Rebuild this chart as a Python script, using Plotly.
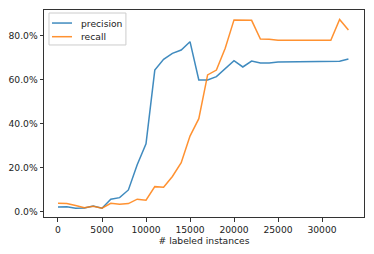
import plotly.graph_objects as go

labeled = [0, 1000, 2000, 3000, 4000, 5000, 6000, 7000, 8000, 9000, 10000, 11000,
           12000, 13000, 14000, 15000, 16000, 17000, 18000, 19000, 20000, 21000,
           22000, 23000, 24000, 25000, 26000, 27000, 28000, 29000, 30000, 31000,
           32000, 33000]
precision = [2.3, 2.4, 1.7, 1.8, 2.7, 1.7, 5.8, 6.5, 10.0, 21.5, 31.0, 64.5,
             69.4, 72.1, 73.6, 77.4, 60.0, 60.0, 61.5, 65.3, 68.8, 65.9,
             68.6, 67.7, 67.7, 68.2, 68.2, 68.2, 68.2, 68.2, 68.2, 68.2,
             68.5, 69.5]
recall = [3.9, 3.8, 2.9, 1.9, 2.6, 1.7, 3.9, 3.5, 3.8, 5.8, 5.3, 11.5,
          11.2, 16.1, 22.4, 34.5, 42.4, 62.3, 64.5, 74.4, 87.3, 87.2,
          87.1, 78.6, 78.5, 78.0, 78.0, 78.0, 78.0, 78.0, 78.0, 78.0,
          87.5, 82.7]
series_names = ["precision", "recall"]
series_colors = ["#1f77b4", "#ff7f0e"]
x_ticks = [0, 5000, 10000, 15000, 20000, 25000, 30000]
y_ticks = [0.0, 0.2, 0.4, 0.6, 0.8]

FONT = dict(family="DejaVu Sans", size=9.2, color="#222222")

fig = go.Figure()
for name, vals, col in zip(series_names, [precision, recall], series_colors):
    fig.add_trace(go.Scatter(x=labeled, y=[v / 100 for v in vals], mode="lines",
                             name=name, line=dict(color=col, width=1.5),
                             opacity=0.85))

axis_common = dict(showgrid=False, zeroline=False, showline=True, linecolor="#333333",
                   linewidth=1, mirror=True, ticks="outside", ticklen=3.5,
                   tickcolor="#333333", tickwidth=0.8, automargin=False,
                   tickfont=FONT)
fig.update_xaxes(range=[-1590, 34770], tickvals=x_ticks,
                 ticktext=[str(t) for t in x_ticks],
                 title=dict(text="# labeled instances", standoff=3, font=FONT),
                 **axis_common)
fig.update_yaxes(range=[-0.023, 0.918], tickvals=y_ticks,
                 ticktext=["%.1f%%" % (t * 100) for t in y_ticks], **axis_common)

# legend drawn in the matplotlib style (compact box, short line samples)
fig.add_shape(type="rect", xref="paper", yref="paper", x0=0.0156, x1=0.256,
              y0=0.831, y1=0.9855, line=dict(color="#cccccc", width=1),
              fillcolor="rgba(255,255,255,0.8)", layer="above")
legend_y = [0.937, 0.871]
for name, col, ly in zip(series_names, series_colors, legend_y):
    fig.add_shape(type="line", xref="paper", yref="paper", x0=0.025, x1=0.0875,
                  y0=ly, y1=ly, line=dict(color=col, width=1.5), opacity=0.85,
                  layer="above")
    fig.add_annotation(xref="paper", yref="paper", x=0.109, y=ly, text=name,
                       showarrow=False, xanchor="left", yanchor="middle", font=FONT)

fig.update_layout(
    width=366, height=246,
    margin=dict(l=36, r=10, t=2, b=37),
    plot_bgcolor="white", paper_bgcolor="white",
    font=FONT,
    showlegend=False,
)

fig.write_html("out.html")
